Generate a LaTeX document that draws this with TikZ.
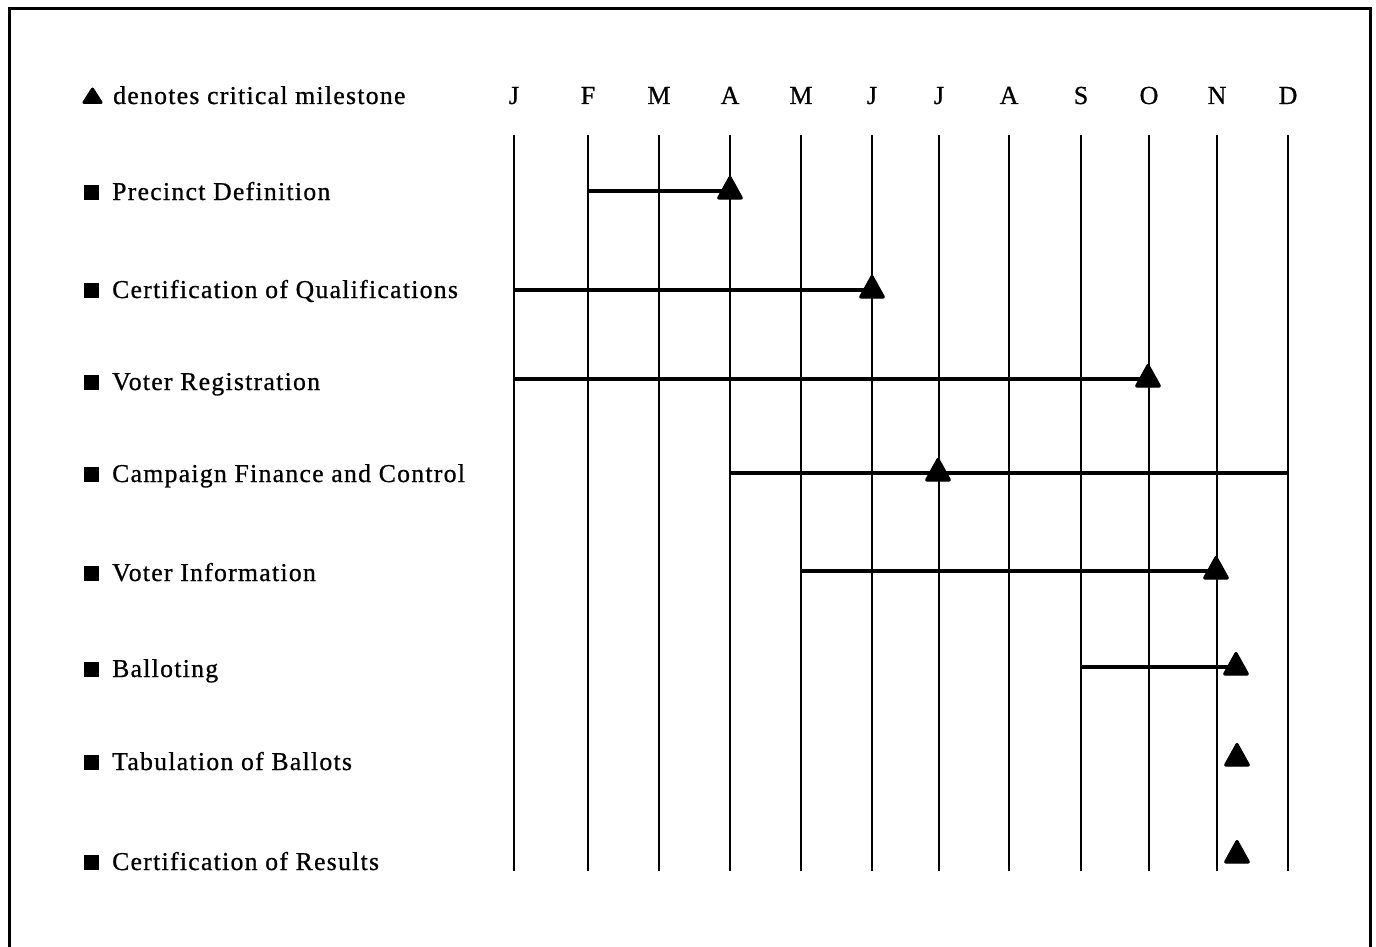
\documentclass[tikz,border=0pt]{standalone}
\usepackage{fontspec}
\setmainfont{Liberation Serif}[LetterSpace=5,FakeBold=0.8]
\begin{document}
\begin{tikzpicture}[x=1pt,y=-1pt,
  frame/.style={line width=3pt},
  grid/.style={line width=2.6pt},
  bar/.style={line width=4.2pt},
  tri/.style={fill=black,draw=black,line width=1.2pt,rounded corners=2pt,line join=round},
  lab/.style={anchor=base west,inner sep=0pt,font=\fontsize{25.7}{28}\selectfont},
  mon/.style={anchor=base,inner sep=0pt,font=\fontsize{26}{28}\selectfont},
  bul/.style={fill=black,minimum width=15pt,minimum height=15pt,inner sep=0pt,anchor=south}
]
\useasboundingbox (0,0) rectangle (1376,947);
\draw[frame] (9,950) -- (9,9) -- (1370,9) -- (1370,950);
% months
\foreach \n/\x/\t in {1/514/J,2/588/F,3/659/M,4/730/A,5/801/M,6/872/J,7/939/J,8/1009/A,9/1081/S,10/1149/O,11/1217/N,12/1288/D}{
  \node[mon] (m\n) at (\x,104) {\t};
  \coordinate (t\n) at (\x,135);
  \coordinate (b\n) at (\x,871);
  \draw[grid] (t\n) -- (b\n);
}
% legend
\coordinate (lg) at (92.5,104);
\fill[tri,shift={(lg)},line width=0.8pt] (-10.5,-0.5) -- (10.5,-0.5) -- (0,-17) -- cycle;
\node[lab] (legend) at (113,104) {denotes critical milestone};
% row labels
\foreach \n/\y/\t in {1/200/Precinct Definition,2/298/Certification of Qualifications,3/390/Voter Registration,4/482/Campaign Finance and Control,5/581/Voter Information,6/677/Balloting,7/770/Tabulation of Ballots,8/870/Certification of Results}{
  \node[bul] (q\n) at (91,\y) {};
  \node[lab] (r\n) at (112,\y) {\t};
}
% milestone positions
\coordinate (k1) at (730,191);
\coordinate (k2) at (872,290);
\coordinate (k3) at (1148,379);
\coordinate (k4) at (938,473);
\coordinate (k5) at (1216,571);
\coordinate (k6) at (1236,667);
\coordinate (k7) at (1237,758);
\coordinate (k8) at (1237,855);
% bar starts/ends
\coordinate (s1) at (588,191);
\coordinate (s2) at (514,290);
\coordinate (s3) at (514,379);
\coordinate (s4) at (730,473);
\coordinate (e4) at (1288,473);
\coordinate (s5) at (801,571);
\coordinate (s6) at (1081,667);
\draw[bar] (s1) -- (k1);
\draw[bar] (s2) -- (k2);
\draw[bar] (s3) -- (k3);
\draw[bar] (s4) -- (e4);
\draw[bar] (s5) -- (k5);
\draw[bar] (s6) -- (k6);
\foreach \k in {k1,k2,k3,k4,k5,k6,k7,k8}{
  \fill[tri,shift={(\k)}] (-13,8) -- (13,8) -- (0,-15.5) -- cycle;
}
\end{tikzpicture}
\end{document}
